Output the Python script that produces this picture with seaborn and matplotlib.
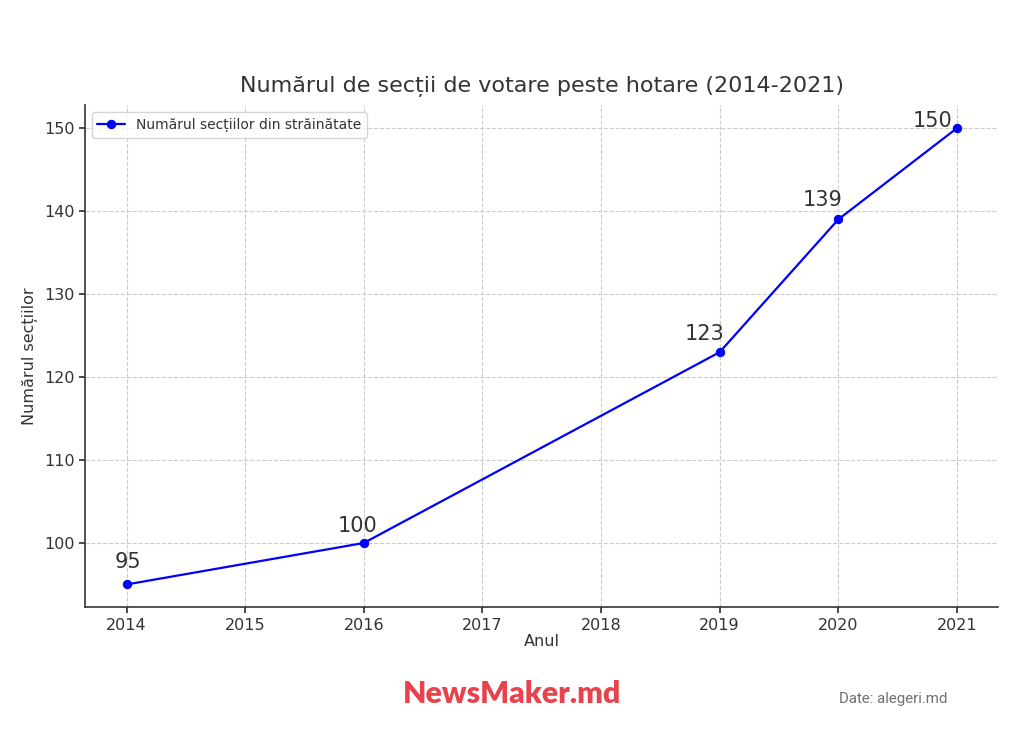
import matplotlib
matplotlib.use("Agg")
import matplotlib.pyplot as plt
import seaborn as sns
import pandas as pd

years = [2014, 2016, 2019, 2020, 2021]
sections = [95, 100, 123, 139, 150]
xticks = [2014, 2015, 2016, 2017, 2018, 2019, 2020, 2021]

sns.set_theme(style="ticks")
plt.rcParams['font.family'] = ['DejaVu Sans']

df = pd.DataFrame({"Anul": years, "Sectii": sections})

fig = plt.figure(figsize=(10.24, 7.37), dpi=100)
ax = fig.add_axes([0.083, 0.176, 0.892, 0.681])

sns.lineplot(data=df, x="Anul", y="Sectii", ax=ax, color="#0000ff", marker="o",
             markersize=6, linewidth=1.6, markeredgecolor="#0000ff",
             label="Numărul secțiilor din străinătate")

ax.set_xticks(xticks)
ax.grid(True, linestyle="--", color="#cccccc", linewidth=0.8)
for s in ["top", "right"]:
    ax.spines[s].set_visible(False)
for s in ["left", "bottom"]:
    ax.spines[s].set_color("#333333")
    ax.spines[s].set_linewidth(1.2)
ax.tick_params(labelsize=11.5, colors="#333333", length=4)

ax.set_title("Numărul de secții de votare peste hotare (2014-2021)", fontsize=16,
             color="#333333", pad=10)
ax.set_xlabel("Anul", fontsize=11.5, color="#333333", labelpad=1)
ax.set_ylabel("Numărul secțiilor", fontsize=11.5, color="#333333")

offsets = [(1, 12), (-6, 7), (-15, 8), (-16, 9), (-24, -3)]
for x, y, (dx, dy) in zip(years, sections, offsets):
    ax.annotate(str(y), (x, y), xytext=(dx, dy), textcoords="offset pixels",
                ha="center", va="bottom", fontsize=15, color="#333333")

leg = ax.legend(loc="upper left", fontsize=10, frameon=True, handlelength=2)
for t in leg.get_texts():
    t.set_color("#333333")

fig.text(0.5, 0.059, "NewsMaker.md", fontsize=21.8, fontweight="heavy",
         color="#e8434c", family="Lato", ha="center", va="center")
fig.text(0.819, 0.052, "Date: alegeri.md", fontsize=10.8, color="#707070",
         family="Roboto", fontweight="normal", ha="left", va="center")

fig.savefig("out.png", dpi=100)
